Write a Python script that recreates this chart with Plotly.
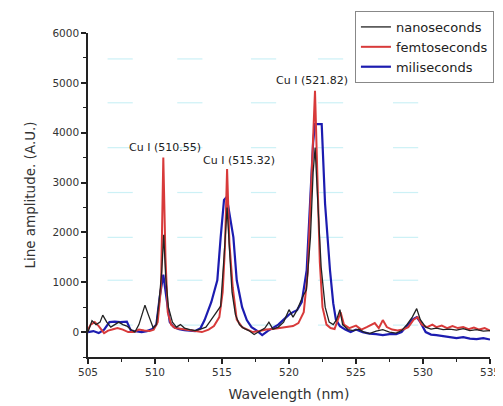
import plotly.graph_objects as go

# ---- data ----
nano_x = [505.0, 505.3, 505.6, 505.9, 506.1, 506.4, 506.7, 507.0, 507.3, 507.6, 507.9, 508.2, 508.5, 508.8,
          509.25, 509.5, 509.87, 510.1, 510.3, 510.5, 510.65, 510.8, 511.0, 511.3, 511.6, 511.9, 512.2, 512.6,
          513.0, 513.4, 513.8, 514.2, 514.6, 514.9, 515.15, 515.38, 515.55, 515.75, 516.0, 516.3, 516.6,
          517.0, 517.4, 517.8, 518.2, 518.5, 518.8, 519.2, 519.6, 520.0, 520.3, 520.6, 521.0, 521.3, 521.6,
          521.8, 521.95, 522.15, 522.4, 522.7, 523.0, 523.3, 523.55, 523.8, 524.0, 524.4, 524.8, 525.2, 525.6,
          526.0, 526.5, 527.0, 527.5, 528.0, 528.4, 528.8, 529.2, 529.53, 529.8, 530.2, 530.6, 531.0, 531.5,
          532.0, 532.5, 533.0, 533.5, 534.0, 534.5, 535.0]
nano_y = [0, 230, 150, 200, 340, 200, 100, 150, 200, 150, 120, 50, 0, 150,
          540, 350, 80, 150, 600, 1200, 1950, 1100, 500, 200, 100, 150, 80, 50,
          30, 60, 100, 250, 400, 520, 1500, 2500, 1700, 800, 350, 150, 80,
          30, -50, 20, 80, 200, 60, 100, 200, 450, 300, 440, 700, 850, 1900,
          3200, 3700, 2600, 1300, 500, 200, 150, 250, 450, 150, 50, 30, 60, 0,
          -30, 20, 50, 0, -20, 30, 150, 300, 470, 250, 100, 60, 80, 50,
          60, 40, 70, 30, 50, 20, 30]

femto_x = [505.0, 505.2, 505.5, 505.8, 506.2, 506.5, 506.8, 507.2, 507.6, 508.0, 508.4, 508.8, 509.2, 509.6,
           509.9, 510.2, 510.45, 510.62, 510.78, 510.95, 511.2, 511.5, 512.0, 512.5, 513.0, 513.5, 514.0,
           514.4, 514.8, 515.05, 515.22, 515.38, 515.55, 515.8, 516.1, 516.5, 516.9, 517.3, 517.8, 518.3,
           518.8, 519.3, 519.8, 520.3, 520.7, 521.1, 521.4, 521.7, 521.94, 522.1, 522.3, 522.5, 522.8,
           523.1, 523.4, 523.65, 523.85, 524.1, 524.5, 525.0, 525.4, 525.8, 526.4, 526.7, 527.0, 527.3,
           527.7, 528.1, 528.5, 528.9, 529.3, 529.6, 529.9, 530.3, 530.7, 531.0, 531.4, 531.8, 532.2,
           532.6, 533.0, 533.4, 533.8, 534.2, 534.6, 535.0]
femto_y = [50, 150, 200, 120, -20, 30, 50, 80, 50, 0, 0, 50, 30, 20,
           50, 200, 900, 3500, 1500, 400, 150, 80, 60, 40, 20, 0, 50,
           120, 300, 800, 1700, 3270, 1800, 900, 250, 100, 50, 0, 20, 50,
           60, 80, 100, 120, 180, 400, 1200, 3200, 4840, 3300, 1400, 500, 150,
           80, 60, 250, 400, 150, 80, 130, 50, 100, 180, 80, 240, 100,
           50, 30, 50, 100, 250, 300, 150, 100, 150, 100, 130, 80, 120,
           80, 100, 60, 90, 50, 80, 30]

milli_x = [505.0, 505.4, 505.8, 506.2, 506.6, 507.0, 507.4, 507.9, 508.2, 508.6, 509.0, 509.4, 509.8, 510.1,
           510.35, 510.62, 510.85, 511.1, 511.4, 511.8, 512.2, 512.6, 513.0, 513.4, 513.7, 514.2, 514.65,
           514.9, 515.15, 515.35, 515.6, 515.85, 516.1, 516.5, 516.85, 517.2, 517.6, 518.0, 518.4, 518.8,
           519.2, 519.6, 520.0, 520.3, 520.6, 520.95, 521.2, 521.32, 521.57, 521.8, 521.94, 522.44, 522.69,
           523.06, 523.3, 523.5, 523.8, 524.2, 524.6, 525.0, 525.5, 526.0, 526.5, 527.0, 527.5, 528.0,
           528.4, 528.8, 529.2, 529.53, 529.8, 530.2, 530.6, 531.0, 531.5, 532.0, 532.5, 533.0, 533.5,
           534.0, 534.5, 535.0]
milli_y = [0, 20, -20, 50, 200, 210, 200, 210, 30, 20, 0, 20, 60, 150,
           700, 1150, 700, 200, 100, 60, 40, 30, 20, 80, 240, 600, 1040,
           1900, 2650, 2710, 2300, 1900, 1040, 500, 240, 100, 30, -60, 20, 80,
           150, 250, 350, 400, 440, 600, 1020, 1240, 2580, 3800, 4170, 4170, 2580,
           1240, 580, 250, 120, 50, 0, 50, 0, -30, -40, -60, -40, -40,
           0, 120, 250, 300, 200, 0, -50, -60, -80, -100, -120, -100, -130,
           -140, -120, -150]

series_names = ["nanoseconds", "femtoseconds", "miliseconds"]

ann_text = ["Cu I (510.55)", "Cu I (515.32)", "Cu I (521.82)"]
ann_x = [510.75, 516.3, 521.7]
ann_y = [3700, 3440, 5040]

# faint cyan artifact marks of the scanned original
art_x = [507.4, 512.6, 518.1, 523.1, 528.7]
art_y = [5480, 4600, 3700, 2800, 1900, 1040, 140]

x_ticks = [505, 510, 515, 520, 525, 530, 535]
y_ticks = [0, 1000, 2000, 3000, 4000, 5000, 6000]

FONT = "DejaVu Sans, Verdana, sans-serif"

fig = go.Figure()

ax, ay = [], []
for yy in art_y:
    for xx in art_x:
        ax.append(xx)
        ay.append(yy)
fig.add_trace(go.Scatter(x=ax, y=ay, mode="markers", showlegend=False, hoverinfo="skip",
                         marker=dict(symbol="line-ew", size=18,
                                     line=dict(width=1.2, color="rgba(110,215,230,0.35)"))))

fig.add_trace(go.Scatter(x=milli_x, y=milli_y, mode="lines", name=series_names[2],
                         line=dict(color="#1c1cb0", width=2.2)))
fig.add_trace(go.Scatter(x=femto_x, y=femto_y, mode="lines", name=series_names[1],
                         line=dict(color="#d83a3a", width=2)))
fig.add_trace(go.Scatter(x=nano_x, y=nano_y, mode="lines", name=series_names[0],
                         line=dict(color="#222222", width=1.3)))

for t, x, y in zip(ann_text, ann_x, ann_y):
    fig.add_annotation(x=x, y=y, text=t, showarrow=False, font=dict(family=FONT, size=11, color="#222"))

# page body has an 8px margin, so the figure is sized 8px smaller
fig.update_layout(
    width=495, height=398,
    margin=dict(l=80, r=13, t=25, b=49, autoexpand=False),
    paper_bgcolor="white", plot_bgcolor="white",
    font=dict(family=FONT, color="#222"),
    legend=dict(x=0.664, y=1.068, xanchor="left", yanchor="top", traceorder="reversed",
                bordercolor="#888", borderwidth=1, bgcolor="white",
                font=dict(family=FONT, size=13, color="#222"),
                itemwidth=30, tracegroupgap=0),
    xaxis=dict(range=[505, 535], tickvals=x_ticks, ticktext=[str(v) for v in x_ticks],
               showgrid=False, zeroline=False, showline=True, linecolor="#222", linewidth=1.5,
               ticks="outside", ticklen=5, tickwidth=1.5, tickcolor="#222",
               minor=dict(dtick=2.5, ticks="outside", ticklen=3, tickcolor="#222", tickwidth=1),
               tickfont=dict(family=FONT, size=10.5, color="#333"),
               title=dict(text="Wavelength (nm)", font=dict(family=FONT, size=14, color="#333"), standoff=12)),
    yaxis=dict(range=[-500, 6000], tickvals=y_ticks, ticktext=[str(v) for v in y_ticks],
               showgrid=False, zeroline=False, showline=True, linecolor="#222", linewidth=1.5,
               ticks="outside", ticklen=5, tickwidth=1.5, tickcolor="#222",
               minor=dict(dtick=500, ticks="outside", ticklen=3, tickcolor="#222", tickwidth=1),
               tickfont=dict(family=FONT, size=10.5, color="#333"),
               title=dict(text="Line amplitude. (A.U.)", font=dict(family=FONT, size=13.5, color="#333"), standoff=14)),
)

fig.write_html("out.html")
